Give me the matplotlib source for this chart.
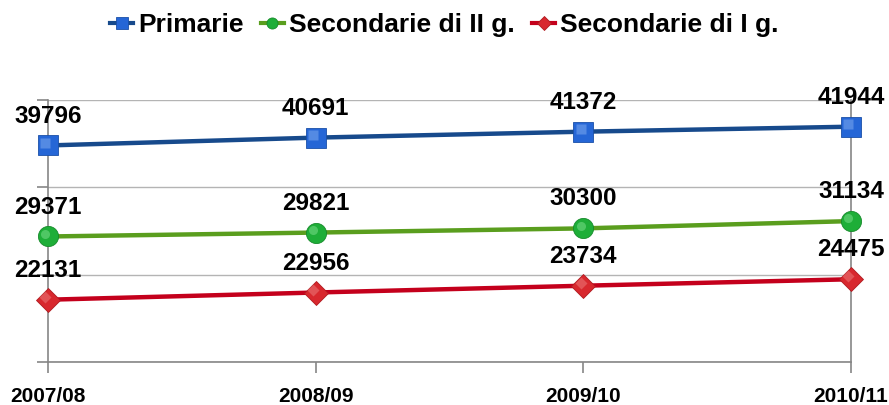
import matplotlib
matplotlib.use("Agg")
import matplotlib.pyplot as plt
from matplotlib.lines import Line2D
from matplotlib.transforms import offset_copy

plt.rcParams['font.family'] = ['Liberation Sans', 'DejaVu Sans']
plt.rcParams['font.weight'] = 'bold'

# Anni scolastici e numero di iscritti per ordine di scuola
anni = ["2007/08", "2008/09", "2009/10", "2010/11"]
primarie = [39796, 40691, 41372, 41944]
secondarie_ii = [29371, 29821, 30300, 31134]
secondarie_i = [22131, 22956, 23734, 24475]

serie = [
    ("Primarie", primarie, "#174A8C", "#2566D6", "#1A4FA8", "#8FB8F5", "s", 14.5),
    ("Secondarie di II g.", secondarie_ii, "#5A9E1E", "#1EAE38", "#168A2A", "#8BE69A", "o", 14.5),
    ("Secondarie di I g.", secondarie_i, "#C4001C", "#D8282E", "#B01A20", "#F08A8A", "D", 12.5),
]

fig = plt.figure(figsize=(8.89, 4.05), dpi=100)
ax = fig.add_axes([48 / 889, 1 - 362 / 405, (851 - 48) / 889, (362 - 100) / 405])

x = list(range(len(anni)))
handles = []
for nome, valori, col_linea, col_marker, col_bordo, col_luce, mk, ms in serie:
    ax.plot(x, valori, color=col_linea, lw=3.2, zorder=3, solid_capstyle='butt')
    ax.plot(x, valori, ls='none', marker=mk, ms=ms, mfc=col_marker, mec=col_bordo,
            mew=0.6, zorder=4, clip_on=False)
    # riflesso chiaro in alto a sinistra del marcatore
    luce = offset_copy(ax.transData, fig=fig, x=-2.0, y=2.0, units='points')
    ax.plot(x, valori, ls='none', marker=mk, ms=ms * 0.45, mfc=col_luce, mec='none',
            alpha=0.45, zorder=5, clip_on=False, transform=luce)
    for xi, v in zip(x, valori):
        ax.annotate(f"{v}", (xi, v), xytext=(0, 16.5), textcoords='offset points',
                    ha='center', va='baseline', fontsize=17.5, fontweight='bold',
                    color='black', zorder=6, annotation_clip=False)
    handles.append(Line2D([], [], color=col_linea, lw=3, marker=mk, ms=ms * 0.55,
                          mfc=col_marker, mec=col_bordo, mew=0.6, label=nome))

ax.set_xlim(0, len(anni) - 1)
ax.set_ylim(15000, 45000)
ax.set_yticks([15000, 25000, 35000, 45000])
ax.set_yticklabels([])
ax.set_xticks(x)
ax.set_xticklabels(anni, fontsize=15, fontweight='bold')

ax.yaxis.grid(True, color='#B4B4B4', lw=1.0)
ax.set_axisbelow(True)
ax.spines['top'].set_visible(False)
for lato in ('left', 'bottom', 'right'):
    ax.spines[lato].set_color('#868686')
    ax.spines[lato].set_linewidth(1.2)
ax.tick_params(axis='both', direction='out', length=8, width=1.2, color='#868686')
ax.tick_params(axis='x', pad=10)

fig.legend(handles=handles, loc='center', bbox_to_anchor=(0.5, 1 - 25 / 405), ncol=3,
           frameon=False, handlelength=0.87, handletextpad=0.2,
           columnspacing=0.65, prop={'weight': 'bold', 'size': 19})

fig.savefig("out.png", dpi=100, facecolor='white')
